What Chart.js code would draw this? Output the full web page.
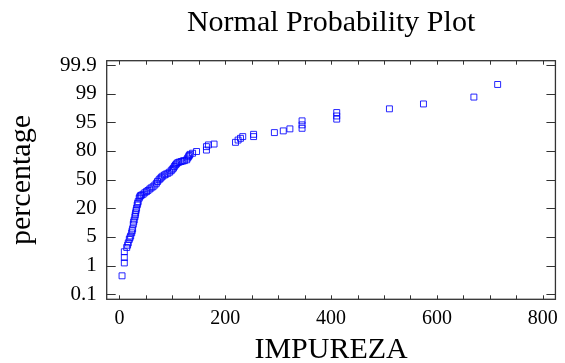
<!DOCTYPE html>
<html>
<head>
<meta charset="utf-8">
<script src="https://cdn.jsdelivr.net/npm/chart.js@4"></script>
<style>
    html, body { margin: 0; padding: 0; background: #fff; }
    #wrap { width: 565px; height: 363px; }
</style>
</head>
<body>
<div id="wrap"><canvas id="probChart" width="565" height="363"></canvas></div>
<script>
// IMPUREZA values, sorted
const impureza = [
    5, 9.3, 9.3, 9.3, 13.8, 15.5, 16.8, 18.7, 20, 21.3, 23.2, 24, 25, 26.2, 27, 28, 29.3, 30, 30.7, 31.5,
    32.5, 33.6, 34.5, 35.5, 37.4, 38.5, 40, 42, 44.9, 48, 51.2, 54, 57.4, 60, 63.6, 67, 69.9, 72, 74.8, 77,
    79.3, 82, 85.4, 88, 91.6, 95, 97.9, 100, 102.2, 104, 106, 108, 110.3, 113, 116.6, 120, 122.8, 127.1, 129, 130.8,
    132, 133.5, 138.3, 145.8, 164.5, 164.5, 168.2, 178.9, 219.4, 224.3, 228.8, 233.1, 253.6, 253.6, 292.9, 309.7, 322.2, 345.2, 345.2, 345.2,
    410.7, 410.7, 410.7, 510.3, 574.6, 669.9, 714.8
];
// vertical position of each point, in units of the evenly spaced percentage labels (0 = 0.1, 8 = 99.9)
const probPos = [
    0.64, 1.09, 1.28, 1.48, 1.63, 1.71, 1.79, 1.91, 1.97, 2.03, 2.14, 2.21, 2.28, 2.44, 2.52, 2.59, 2.70, 2.77, 2.84, 2.92,
    3.00, 3.11, 3.17, 3.23, 3.35, 3.40, 3.44, 3.46, 3.49, 3.54, 3.58, 3.62, 3.67, 3.71, 3.75, 3.81, 3.87, 3.93, 3.99, 4.03,
    4.08, 4.12, 4.16, 4.19, 4.22, 4.26, 4.31, 4.36, 4.40, 4.46, 4.51, 4.55, 4.59, 4.61, 4.63, 4.65, 4.66, 4.69, 4.75, 4.80,
    4.84, 4.88, 4.92, 4.98, 5.03, 5.15, 5.21, 5.24, 5.30, 5.38, 5.44, 5.50, 5.50, 5.58, 5.64, 5.70, 5.77, 5.79, 5.91, 6.05,
    6.11, 6.22, 6.34, 6.47, 6.64, 6.88, 7.32
];
const yTickLabels = ['0.1', '1', '5', '20', '50', '80', '95', '99', '99.9'];
const xLabelTicks = [0, 200, 400, 600, 800];
const xMinorTicks = [0, 50, 100, 150, 200, 250, 300, 350, 400, 450, 500, 550, 600, 650, 700, 750, 800];

const serif = 'Liberation Serif';

// box around the plot with inward tick marks on all four sides
const frameTicks = {
    id: 'frameTicks',
    afterDraw(chart) {
        const ctx = chart.ctx;
        const area = chart.chartArea;
        const xs = chart.scales.x;
        const ys = chart.scales.y;
        ctx.save();
        ctx.strokeStyle = '#333';
        ctx.lineWidth = 1.3;
        ctx.strokeRect(area.left, area.top, area.right - area.left, area.bottom - area.top);
        ctx.lineWidth = 1;
        ctx.beginPath();
        xMinorTicks.forEach(v => {
            const px = Math.round(xs.getPixelForValue(v)) + 0.5;
            ctx.moveTo(px, area.bottom);
            ctx.lineTo(px, area.bottom - 4);
            ctx.moveTo(px, area.top);
            ctx.lineTo(px, area.top + 4);
        });
        yTickLabels.forEach((l, i) => {
            const py = Math.round(ys.getPixelForValue(i)) + 0.5;
            ctx.moveTo(area.left, py);
            ctx.lineTo(area.left + 9, py);
            ctx.moveTo(area.right, py);
            ctx.lineTo(area.right - 9, py);
        });
        ctx.stroke();
        ctx.restore();
    }
};

const ctx = document.getElementById('probChart').getContext('2d');
new Chart(ctx, {
    type: 'scatter',
    data: {
        datasets: [{
            data: impureza.map((v, i) => ({ x: v, y: probPos[i] })),
            pointStyle: 'rect',
            pointRadius: 4.2,
            borderWidth: 1,
            borderColor: 'rgba(0, 0, 255, 0.85)',
            backgroundColor: 'rgba(255, 255, 255, 0)'
        }]
    },
    options: {
        responsive: false,
        animation: false,
        layout: { padding: { left: 0, right: 5, top: 0, bottom: 0 } },
        plugins: {
            legend: { display: false },
            tooltip: { enabled: false }
        },
        scales: {
            x: {
                type: 'linear',
                position: 'bottom',
                min: -24,
                max: 824,
                afterBuildTicks: scale => { scale.ticks = xLabelTicks.map(v => ({ value: v })); },
                afterFit: scale => { scale.height = 63.7; },
                grid: { display: false, drawTicks: false },
                border: { display: false },
                ticks: {
                    color: '#000',
                    padding: 7,
                    maxRotation: 0,
                    font: { family: serif, size: 20 }
                },
                title: {
                    display: true,
                    text: 'IMPUREZA',
                    color: '#000',
                    padding: { top: 0, bottom: 0 },
                    font: { family: serif, size: 30, lineHeight: 0.87 }
                }
            },
            xTop: {
                type: 'linear',
                position: 'top',
                min: -24,
                max: 824,
                afterFit: scale => { scale.height = 60.7; },
                grid: { display: false, drawTicks: false },
                border: { display: false },
                ticks: { display: false },
                title: {
                    display: true,
                    text: 'Normal Probability Plot',
                    color: '#000',
                    padding: { top: 8, bottom: 0 },
                    font: { family: serif, size: 30, lineHeight: 1 }
                }
            },
            y: {
                type: 'linear',
                min: -0.18,
                max: 8.15,
                afterBuildTicks: scale => { scale.ticks = yTickLabels.map((l, i) => ({ value: i })); },
                afterFit: scale => { scale.width = 106.7; },
                grid: { display: false, drawTicks: false },
                border: { display: false },
                ticks: {
                    color: '#000',
                    padding: 10,
                    font: { family: serif, size: 21 },
                    callback: value => yTickLabels[value]
                },
                title: {
                    display: true,
                    text: 'percentage',
                    color: '#000',
                    padding: { top: 7, bottom: 0 },
                    font: { family: serif, size: 30, lineHeight: 1 }
                }
            }
        }
    },
    plugins: [frameTicks]
});
</script>
</body>
</html>
